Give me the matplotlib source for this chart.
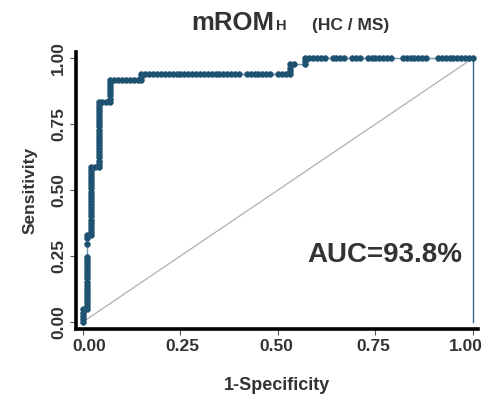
import matplotlib
matplotlib.use("Agg")
import matplotlib.pyplot as plt
import matplotlib.transforms as mtransforms
import numpy as np

# ROC: thresholds in score order, as
# (positives gained, negatives gained, how many thresholds in a row)
n_pos = 85
n_neg = 100
steps = [
    (1, 0, 4), (0, 1, 1), (1, 0, 17), (4, 0, 1), (2, 0, 1), (1, 0, 1),
    (0, 1, 1), (1, 0, 22), (0, 1, 2), (1, 0, 21), (0, 1, 3), (1, 0, 7),
    (0, 1, 8), (1, 0, 2), (0, 1, 25), (0, 2, 1), (0, 1, 6), (0, 2, 1),
    (0, 1, 3), (1, 0, 3), (0, 1, 1), (0, 3, 1), (1, 0, 2), (0, 1, 5),
    (0, 2, 1), (0, 1, 3), (0, 2, 1), (0, 1, 2), (0, 2, 1), (0, 1, 6),
    (0, 3, 1), (0, 1, 6), (0, 3, 1), (0, 1, 9),
]
auc_text = "AUC=93.8%"
x_ticks = [0.00, 0.25, 0.50, 0.75, 1.00]
y_ticks = [0.00, 0.25, 0.50, 0.75, 1.00]

# cumulative counts -> fpr / tpr
dp = [0]
dn = [0]
for p, n, k in steps:
    dp += [p] * k
    dn += [n] * k
tpr = np.cumsum(dp) / n_pos
fpr = np.cumsum(dn) / n_neg

plt.rcParams['font.family'] = ['Liberation Sans', 'DejaVu Sans']
txt_col = '#333333'
curve_col = '#1d4f6e'

fig = plt.figure(figsize=(4.87, 3.98), dpi=100)
ax = fig.add_axes([0.156, 0.1734, 0.8255, 0.6956])

ax.plot([0, 1], [0, 1], color='#b0b0b0', lw=0.9, zorder=1)
ax.plot([1, 1], [0, 1], color='#2f6a8f', lw=1.0, zorder=1)
ax.plot(fpr, tpr, color='#6a9aaa', lw=1.0, zorder=2)
ax.plot(fpr, tpr, ls='none', marker='o', ms=4.2, mfc=curve_col,
        mec='#2a5c7c', mew=0.4, zorder=3)

ax.set_xlim(-0.018, 1.013)
ax.set_ylim(-0.027, 1.023)
ax.set_xticks(x_ticks)
ax.set_yticks(y_ticks)
ax.set_xticklabels([f"{t:.2f}" for t in x_ticks], fontsize=12.5,
                   fontweight='bold', color=txt_col)
ax.set_yticklabels([f"{t:.2f}" for t in y_ticks], fontsize=12.5,
                   fontweight='bold', color=txt_col, rotation=90, va='center')
ax.tick_params(length=4, width=0.8, color='#555555', pad=3)

# outer x labels sit a little inwards, as in the reference
xlabs = ax.get_xticklabels()
shifts = [6, 2, -2, -2, -7]
for lab, dx in zip(xlabs, shifts):
    lab.set_transform(lab.get_transform() +
                      mtransforms.ScaledTranslation(dx / 100, 0, fig.dpi_scale_trans))

for s in ['top', 'right']:
    ax.spines[s].set_visible(False)
for s in ['left', 'bottom']:
    ax.spines[s].set_linewidth(2.6)
    ax.spines[s].set_color('black')

ax.set_xlabel("1-Specificity", fontsize=13, fontweight='bold',
              color=txt_col, labelpad=17)
ax.set_ylabel("Sensitivity", fontsize=12.5, fontweight='bold',
              color=txt_col, labelpad=10)

ax.text(0.972, 0.254, auc_text, ha='right', va='center', fontsize=20,
        fontweight='bold', color=txt_col)

# title: mROM with subscript H, then group label
fig.text(0.392, 0.925, "mROM", fontsize=18.5, fontweight='bold',
         color=txt_col, va='baseline')
fig.text(0.567, 0.925, "H", fontsize=10.5, fontweight='bold',
         color=txt_col, va='baseline')
fig.text(0.641, 0.925, "(HC / MS)", fontsize=12.5, fontweight='bold',
         color=txt_col, va='baseline')

plt.savefig("out.png", dpi=100)
